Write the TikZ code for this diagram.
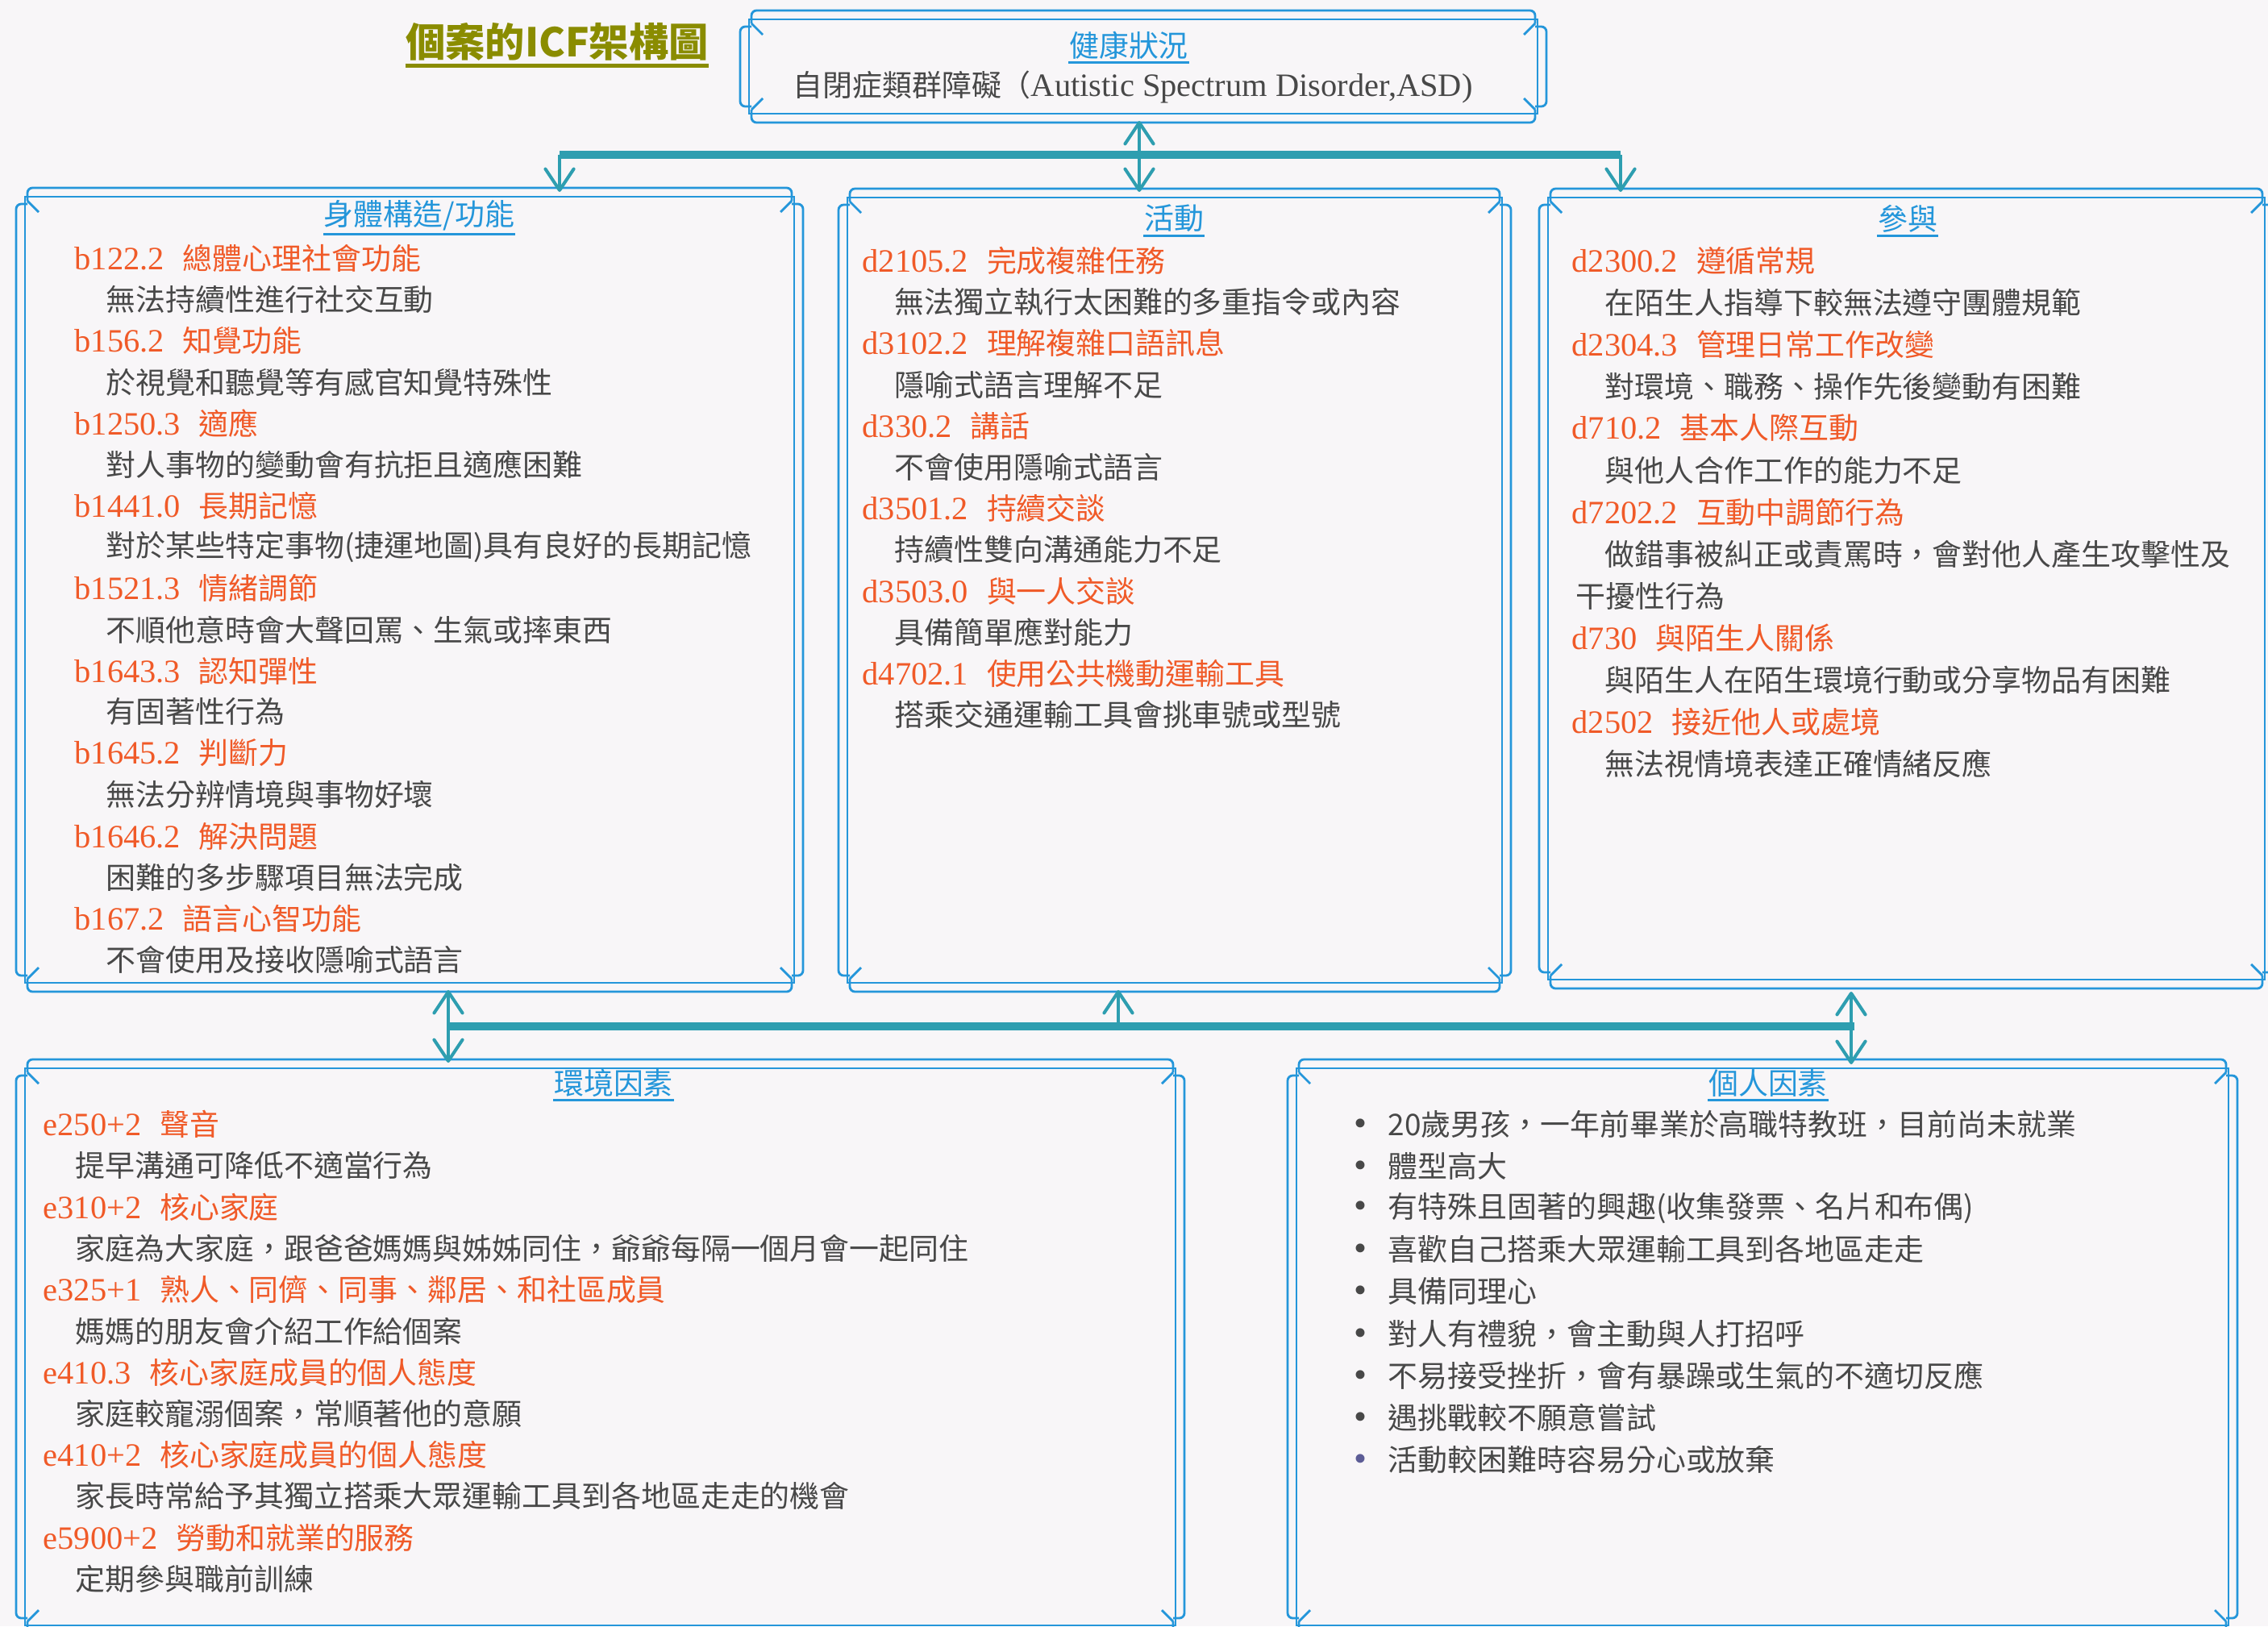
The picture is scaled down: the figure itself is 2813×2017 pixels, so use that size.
\documentclass[tikz,border=0pt]{standalone}
\usepackage{fontspec}
\setmainfont{Liberation Serif}
\newfontfamily\cjk{Noto Sans CJK TC}
\usetikzlibrary{arrows.meta}

\definecolor{paper}{RGB}{248,246,248}
\definecolor{frameblue}{RGB}{36,150,218}
\definecolor{linkteal}{RGB}{46,158,176}
\definecolor{codered}{RGB}{240,90,40}
\definecolor{bodygray}{RGB}{72,72,72}
\definecolor{titleolive}{RGB}{138,140,0}
\definecolor{dotpurple}{RGB}{92,92,150}

\newcommand{\zh}{\cjk\fontsize{10.5}{12}\selectfont}
\newcommand{\dotmark}{\makebox[0.42cm][l]{\rmfamily\fontsize{13}{13}\selectfont\textbullet}}
% double scroll frame: (#1,#2) outer top left, (#3,#4) outer bottom right
\newcommand{\scrollframe}[4]{%
	\draw[scroll] (#1+11,#2+11) rectangle (#3-11,#4-11);
	\draw[scroll,rounded corners=1.8pt] (#1+14,#2+16) |- (#3-14,#2) -- (#3-14,#2+16);
	\draw[scroll,rounded corners=1.8pt] (#1+14,#4-16) |- (#3-14,#4) -- (#3-14,#4-16);
	\draw[scroll,rounded corners=1.8pt] (#1+14,#2+20) -| (#1,#4-20) -- (#1+14,#4-20);
	\draw[scroll,rounded corners=1.8pt] (#3-14,#2+20) -| (#3,#4-20) -- (#3-14,#4-20);
	\draw[scroll] (#1+14,#2+16) -- (#1+28,#2+30) (#3-14,#2+16) -- (#3-28,#2+30)
		(#1+14,#4-16) -- (#1+28,#4-30) (#3-14,#4-16) -- (#3-28,#4-30);
}

\tikzset{
	scroll/.style={draw=frameblue,line width=0.8pt},
	code/.style={inner sep=0pt,text=codered,font=\fontsize{11.5}{13}\selectfont},
	desc/.style={inner sep=0pt,text=bodygray,font=\zh},
	heading/.style={inner sep=0pt,text=frameblue,font=\zh},
	headrule/.style={draw=frameblue,line width=0.85pt},
	link/.style={draw=linkteal,line width=1.15pt},
	bar/.style={draw=linkteal,line width=2.85pt},
	>={Straight Barb[length=7.5pt,width=10pt,round]}
}

\begin{document}
\begin{tikzpicture}[x=0.01cm,y={(0cm,-0.01cm)}]
	\useasboundingbox (0,0) rectangle (2813,2017);
	\clip (0,0) rectangle (2813,2017);
	\fill[paper] (0,0) rectangle (2813,2017);
%	\draw[help lines,step=100] (0,0) grid (2813,2017);

	\scrollframe{918}{13}{1918}{152}
	\scrollframe{20}{233}{996}{1230}
	\scrollframe{1040}{234}{1874}{1230}
	\scrollframe{1909}{234}{2820}{1226}
	\scrollframe{20}{1314}{1469}{2027}
	\scrollframe{1597}{1314}{2775}{2027}

	\path (1413,150) coordinate (health_s);
	\path (1413,238) coordinate (activity_n);
	\path (694,192) coordinate (topbar_w);
	\path (2010,192) coordinate (topbar_e);
	\path (694,238) coordinate (body_n);
	\path (2010,238) coordinate (particip_n);
	\path (556,1273) coordinate (botbar_w);
	\path (2300,1273) coordinate (botbar_e);
	\path (556,1228) coordinate (body_s);
	\path (556,1318) coordinate (environ_n);
	\path (1387,1273) coordinate (botbar_mid);
	\path (1387,1228) coordinate (activity_s);
	\path (2296,1230) coordinate (particip_s);
	\path (2296,1320) coordinate (personal_n);

	\path (691,52) node(chart_title) [inner sep=0pt,text=titleolive,font=\cjk\fontsize{14}{16}\selectfont\bfseries] {個案的ICF架構圖};
	\draw[titleolive,line width=1.2pt] ([yshift=-1.5pt]chart_title.south west) -- ([yshift=-1.5pt]chart_title.south east);

	\path (1400,56) node(health_title) [heading] {健康狀況};
	\path (1405,108) node(health_text) [desc] {自閉症類群障礙（{\rmfamily\fontsize{11.5}{13}\selectfont Autistic Spectrum Disorder,ASD)}};
	\path (520,267) node(body_title) [heading] {身體構造/功能};
	\path (1456,271) node(activity_title) [heading] {活動};
	\path (2366,271) node(particip_title) [heading] {參與};
	\path (761,1343) node(environ_title) [heading] {環境因素};
	\path (2193,1343) node(personal_title) [heading] {個人因素};
	\draw[headrule] ([yshift=-1pt]health_title.south west) -- ([yshift=-1pt]health_title.south east);
	\draw[headrule] ([yshift=-1pt]body_title.south west) -- ([yshift=-1pt]body_title.south east);
	\draw[headrule] ([yshift=-1pt]activity_title.south west) -- ([yshift=-1pt]activity_title.south east);
	\draw[headrule] ([yshift=-1pt]particip_title.south west) -- ([yshift=-1pt]particip_title.south east);
	\draw[headrule] ([yshift=-1pt]environ_title.south west) -- ([yshift=-1pt]environ_title.south east);
	\draw[headrule] ([yshift=-1pt]personal_title.south west) -- ([yshift=-1pt]personal_title.south east);

	% body structure / function
	\path (92,320) node(b122) [right,code] {b122.2\hspace{6.5pt}{\zh 總體心理社會功能}};
	\path (131,371) node(b122_d) [right,desc] {無法持續性進行社交互動};
	\path (92,422) node(b156) [right,code] {b156.2\hspace{6.5pt}{\zh 知覺功能}};
	\path (131,474) node(b156_d) [right,desc] {於視覺和聽覺等有感官知覺特殊性};
	\path (92,525) node(b1250) [right,code] {b1250.3\hspace{6.5pt}{\zh 適應}};
	\path (131,576) node(b1250_d) [right,desc] {對人事物的變動會有抗拒且適應困難};
	\path (92,627) node(b1441) [right,code] {b1441.0\hspace{6.5pt}{\zh 長期記憶}};
	\path (131,678) node(b1441_d) [right,desc] {對於某些特定事物(捷運地圖)具有良好的長期記憶};
	\path (92,730) node(b1521) [right,code] {b1521.3\hspace{6.5pt}{\zh 情緒調節}};
	\path (131,781) node(b1521_d) [right,desc] {不順他意時會大聲回罵、生氣或摔東西};
	\path (92,832) node(b1643) [right,code] {b1643.3\hspace{6.5pt}{\zh 認知彈性}};
	\path (131,883) node(b1643_d) [right,desc] {有固著性行為};
	\path (92,934) node(b1645) [right,code] {b1645.2\hspace{6.5pt}{\zh 判斷力}};
	\path (131,986) node(b1645_d) [right,desc] {無法分辨情境與事物好壞};
	\path (92,1037) node(b1646) [right,code] {b1646.2\hspace{6.5pt}{\zh 解決問題}};
	\path (131,1088) node(b1646_d) [right,desc] {困難的多步驟項目無法完成};
	\path (92,1139) node(b167) [right,code] {b167.2\hspace{6.5pt}{\zh 語言心智功能}};
	\path (131,1190) node(b167_d) [right,desc] {不會使用及接收隱喻式語言};

	% activity
	\path (1069,323) node(d2105) [right,code] {d2105.2\hspace{6.5pt}{\zh 完成複雜任務}};
	\path (1109,374) node(d2105_d) [right,desc] {無法獨立執行太困難的多重指令或內容};
	\path (1069,425) node(d3102) [right,code] {d3102.2\hspace{6.5pt}{\zh 理解複雜口語訊息}};
	\path (1109,477) node(d3102_d) [right,desc] {隱喻式語言理解不足};
	\path (1069,528) node(d330) [right,code] {d330.2\hspace{6.5pt}{\zh 講話}};
	\path (1109,579) node(d330_d) [right,desc] {不會使用隱喻式語言};
	\path (1069,630) node(d3501) [right,code] {d3501.2\hspace{6.5pt}{\zh 持續交談}};
	\path (1109,681) node(d3501_d) [right,desc] {持續性雙向溝通能力不足};
	\path (1069,733) node(d3503) [right,code] {d3503.0\hspace{6.5pt}{\zh 與一人交談}};
	\path (1109,784) node(d3503_d) [right,desc] {具備簡單應對能力};
	\path (1069,835) node(d4702) [right,code] {d4702.1\hspace{6.5pt}{\zh 使用公共機動運輸工具}};
	\path (1109,886) node(d4702_d) [right,desc] {搭乘交通運輸工具會挑車號或型號};

	% participation
	\path (1949,323) node(d2300) [right,code] {d2300.2\hspace{6.5pt}{\zh 遵循常規}};
	\path (1990,375) node(d2300_d) [right,desc] {在陌生人指導下較無法遵守團體規範};
	\path (1949,427) node(d2304) [right,code] {d2304.3\hspace{6.5pt}{\zh 管理日常工作改變}};
	\path (1990,479) node(d2304_d) [right,desc] {對環境、職務、操作先後變動有困難};
	\path (1949,531) node(d710) [right,code] {d710.2\hspace{6.5pt}{\zh 基本人際互動}};
	\path (1990,583) node(d710_d) [right,desc] {與他人合作工作的能力不足};
	\path (1949,635) node(d7202) [right,code] {d7202.2\hspace{6.5pt}{\zh 互動中調節行為}};
	\path (1990,687) node(d7202_d) [right,desc] {做錯事被糾正或責罵時，會對他人產生攻擊性及};
	\path (1954,739) node(d7202_e) [right,desc] {干擾性行為};
	\path (1949,791) node(d730) [right,code] {d730\hspace{6.5pt}{\zh 與陌生人關係}};
	\path (1990,843) node(d730_d) [right,desc] {與陌生人在陌生環境行動或分享物品有困難};
	\path (1949,895) node(d2502) [right,code] {d2502\hspace{6.5pt}{\zh 接近他人或處境}};
	\path (1990,947) node(d2502_d) [right,desc] {無法視情境表達正確情緒反應};

	% environmental factors
	\path (53,1394) node(e250) [right,code] {e250+2\hspace{6.5pt}{\zh 聲音}};
	\path (93,1445) node(e250_d) [right,desc] {提早溝通可降低不適當行為};
	\path (53,1497) node(e310) [right,code] {e310+2\hspace{6.5pt}{\zh 核心家庭}};
	\path (93,1548) node(e310_d) [right,desc] {家庭為大家庭，跟爸爸媽媽與姊姊同住，爺爺每隔一個月會一起同住};
	\path (53,1599) node(e325) [right,code] {e325+1\hspace{6.5pt}{\zh 熟人、同儕、同事、鄰居、和社區成員}};
	\path (93,1651) node(e325_d) [right,desc] {媽媽的朋友會介紹工作給個案};
	\path (53,1702) node(e4103) [right,code] {e410.3\hspace{6.5pt}{\zh 核心家庭成員的個人態度}};
	\path (93,1753) node(e4103_d) [right,desc] {家庭較寵溺個案，常順著他的意願};
	\path (53,1804) node(e4102) [right,code] {e410+2\hspace{6.5pt}{\zh 核心家庭成員的個人態度}};
	\path (93,1856) node(e4102_d) [right,desc] {家長時常給予其獨立搭乘大眾運輸工具到各地區走走的機會};
	\path (53,1907) node(e5900) [right,code] {e5900+2\hspace{6.5pt}{\zh 勞動和就業的服務}};
	\path (93,1958) node(e5900_d) [right,desc] {定期參與職前訓練};

	% personal factors
	\path (1679,1394) node(p1) [right,desc] {\dotmark 20歲男孩，一年前畢業於高職特教班，目前尚未就業};
	\path (1679,1446) node(p2) [right,desc] {\dotmark 體型高大};
	\path (1679,1498) node(p3) [right,desc] {\dotmark 有特殊且固著的興趣(收集發票、名片和布偶)};
	\path (1679,1550) node(p4) [right,desc] {\dotmark 喜歡自己搭乘大眾運輸工具到各地區走走};
	\path (1679,1602) node(p5) [right,desc] {\dotmark 具備同理心};
	\path (1679,1654) node(p6) [right,desc] {\dotmark 對人有禮貌，會主動與人打招呼};
	\path (1679,1706) node(p7) [right,desc] {\dotmark 不易接受挫折，會有暴躁或生氣的不適切反應};
	\path (1679,1758) node(p8) [right,desc] {\dotmark 遇挑戰較不願意嘗試};
	\path (1679,1810) node(p9) [right,desc] {{\color{dotpurple}\dotmark}活動較困難時容易分心或放棄};

	\draw[bar] (topbar_w) -- (topbar_e);
	\draw[link,->] (topbar_w) -- (body_n);
	\draw[link,->] (topbar_e) -- (particip_n);
	\draw[link,<->] (health_s) -- (activity_n);
	\draw[bar] (botbar_w) -- (botbar_e);
	\draw[link,<->] (body_s) -- (environ_n);
	\draw[link,->] (botbar_mid) -- (activity_s);
	\draw[link,<->] (particip_s) -- (personal_n);
\end{tikzpicture}
\end{document}
